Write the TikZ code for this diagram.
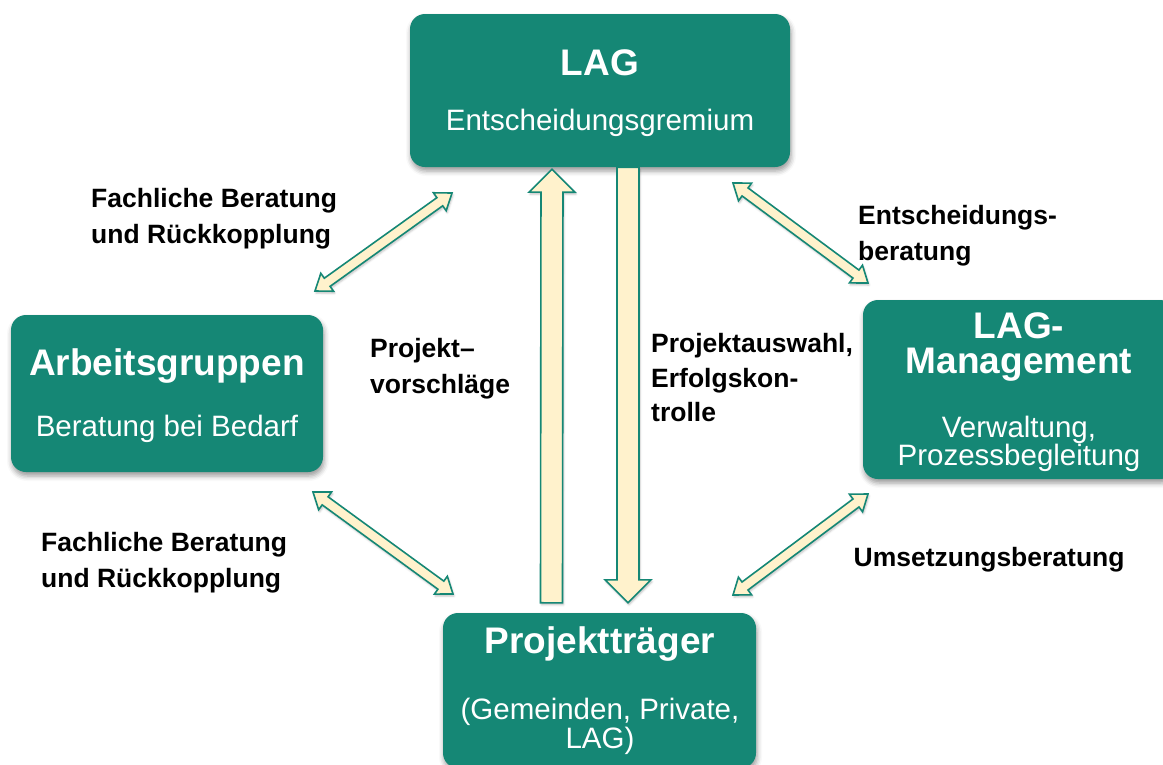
\documentclass[tikz,border=0pt]{standalone}
\usepackage{fontspec}
\setmainfont{Liberation Sans}
\usepackage{tikz}
\usetikzlibrary{calc,shadows.blur}
\definecolor{lagteal}{RGB}{21,135,117}
\definecolor{cream}{RGB}{255,242,204}
\tikzstyle{box} = [rectangle, rounded corners=15pt, fill=lagteal, inner sep=0pt, blur shadow={shadow xshift=1pt, shadow yshift=-4pt, shadow blur radius=5pt, shadow opacity=40}]
\tikzstyle{boxtitle} = [text=white, font=\fontsize{37}{35}\selectfont\bfseries, inner sep=0pt, anchor=base, align=center]
\tikzstyle{boxtext} = [text=white, font=\fontsize{29.5}{28}\selectfont, inner sep=0pt, anchor=base, align=center]
\tikzstyle{flowtext} = [font=\fontsize{26.5}{36}\selectfont\bfseries, inner sep=0pt, anchor=base west, align=left]
\tikzstyle{blockarrow} = [draw=lagteal, fill=cream, line width=1.6pt, line join=miter, blur shadow={shadow xshift=1pt, shadow yshift=-2pt, shadow blur radius=2pt, shadow opacity=25}]

% block arrow, tail #1, tip #2
\newcommand{\sglarrow}[2]{%
  \draw[blockarrow] ($(#1)!11pt!90:(#2)$)
    -- ($(#2)!23pt!(#1)!11pt!-90:(#1)$)
    -- ($(#2)!23pt!(#1)!23pt!-90:(#1)$)
    -- (#2)
    -- ($(#2)!23pt!(#1)!23pt!90:(#1)$)
    -- ($(#2)!23pt!(#1)!11pt!90:(#1)$)
    -- ($(#1)!11pt!-90:(#2)$) -- cycle;}
% double block arrow between #1 and #2
\newcommand{\dblarrow}[2]{%
  \draw[blockarrow] (#1)
    -- ($(#1)!15pt!(#2)!11pt!90:(#2)$)
    -- ($(#1)!15pt!(#2)!5pt!90:(#2)$)
    -- ($(#2)!15pt!(#1)!5pt!-90:(#1)$)
    -- ($(#2)!15pt!(#1)!11pt!-90:(#1)$)
    -- (#2)
    -- ($(#2)!15pt!(#1)!11pt!90:(#1)$)
    -- ($(#2)!15pt!(#1)!5pt!90:(#1)$)
    -- ($(#1)!15pt!(#2)!5pt!-90:(#2)$)
    -- ($(#1)!15pt!(#2)!11pt!-90:(#2)$)
    -- cycle;}

\begin{document}
\begin{tikzpicture}[x=1pt, y=-1pt]
    \useasboundingbox (0,0) rectangle (1163,764);
    \clip (0,0) rectangle (1163,764);

    % boxes
    \node [box, minimum width=380pt, minimum height=153pt] (lag) at (600,90.5) {};
    \node [box, minimum width=312pt, minimum height=157pt] (ag) at (167,393.5) {};
    \node [box, minimum width=312pt, minimum height=179pt] (mgmt) at (1019,389.5) {};
    \node [box, minimum width=313pt, minimum height=155pt] (pt) at (599.5,690.5) {};

    \node [boxtitle] (lagtitle) at (600,75) {LAG};
    \node [boxtext] (lagtext) at (600,130) {Entscheidungsgremium};
    \node [boxtitle] (agtitle) at (167,375) {Arbeitsgruppen};
    \node [boxtext] (agtext) at (167,436.5) {Beratung bei Bedarf};
    \node [boxtitle] (mgmttitle) at (1019,373) {LAG-\\Management};
    \node [boxtext] (mgmttext) at (1019,465) {Verwaltung,\\Prozessbegleitung};
    \node [boxtitle] (pttitle) at (600,653) {Projektträger};
    \node [boxtext, font=\fontsize{29.5}{25}\selectfont] (pttext) at (600,748) {(Gemeinden, Private,\\LAG)};

    % arrows
    \coordinate (upTail) at ([xshift=-48pt, yshift=10pt]pt.north);
    \coordinate (upTip) at ([xshift=-48pt, yshift=-2pt]lag.south);
    \coordinate (dnTail) at ([xshift=28pt]lag.south);
    \coordinate (dnTip) at ([xshift=28.5pt, yshift=10pt]pt.north);
    \coordinate (ulA) at (315,291);
    \coordinate (ulB) at (452,193);
    \coordinate (urA) at (733,183);
    \coordinate (urB) at (868,283);
    \coordinate (llA) at (313,492);
    \coordinate (llB) at (453,594);
    \coordinate (lrA) at (868,494);
    \coordinate (lrB) at (733,595);

    \sglarrow{upTail}{upTip}
    \sglarrow{dnTail}{dnTip}
    \dblarrow{ulA}{ulB}
    \dblarrow{urA}{urB}
    \dblarrow{llA}{llB}
    \dblarrow{lrA}{lrB}

    % labels
    \node [flowtext] (fbtop) at (91,243) {Fachliche Beratung\\und Rückkopplung};
    \node [flowtext] (fbbot) at (41,587.5) {Fachliche Beratung\\und Rückkopplung};
    \node [flowtext] (vorschlag) at (370,393) {Projekt–\\vorschläge};
    \node [flowtext, font=\fontsize{26.5}{34.5}\selectfont\bfseries] (auswahl) at (651,421.5) {Projektauswahl,\\Erfolgskon-\\trolle};
    \node [flowtext] (entsch) at (858,260) {Entscheidungs-\\beratung};
    \node [flowtext] (umsetz) at (853.5,566) {Umsetzungsberatung};
\end{tikzpicture}
\end{document}
